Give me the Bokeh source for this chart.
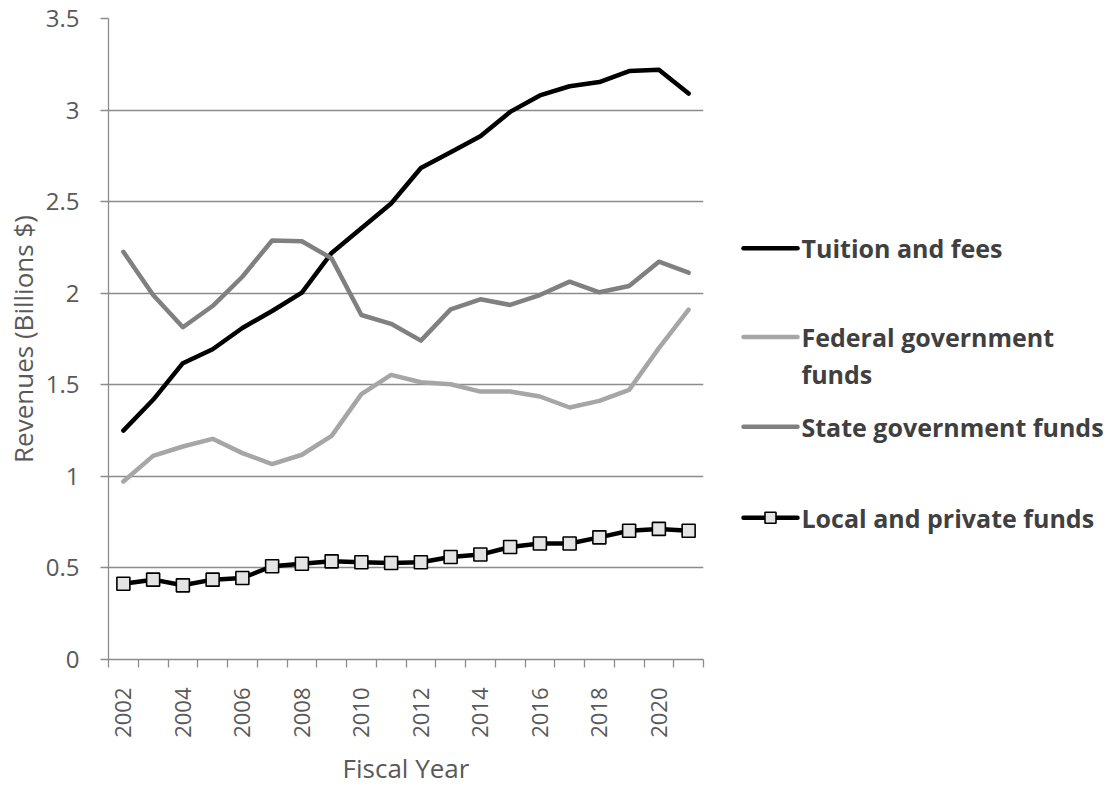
import math
from bokeh.plotting import figure
from bokeh.layouts import row
from bokeh.models import FixedTicker, NumeralTickFormatter, Range1d
from bokeh.embed import file_html
from bokeh.resources import INLINE
from bokeh.core.properties import value

# ---------------- data ----------------
years = list(range(2002, 2022))
tuition = [1.25, 1.418, 1.618, 1.694, 1.81, 1.903, 2.003, 2.22, 2.355, 2.49,
           2.684, 2.77, 2.857, 2.99, 3.08, 3.13, 3.153, 3.213, 3.22, 3.09]
federal = [0.972, 1.112, 1.163, 1.205, 1.127, 1.067, 1.118, 1.221, 1.449, 1.554,
           1.514, 1.503, 1.463, 1.463, 1.436, 1.376, 1.412, 1.472, 1.70, 1.91]
state = [2.226, 1.99, 1.814, 1.93, 2.09, 2.288, 2.284, 2.19, 1.881, 1.833,
         1.741, 1.912, 1.967, 1.936, 1.99, 2.063, 2.005, 2.039, 2.172, 2.112]
local = [0.414, 0.436, 0.405, 0.436, 0.445, 0.509, 0.523, 0.536, 0.531, 0.527,
         0.531, 0.56, 0.573, 0.614, 0.633, 0.633, 0.667, 0.703, 0.713, 0.703]

series_names = ["Tuition and fees", "Federal government\nfunds",
                "State government funds", "Local and private funds"]
y_ticks = [0, 0.5, 1, 1.5, 2, 2.5, 3, 3.5]
x_label_years = list(range(2002, 2022, 2))

FONT = "Open Sans"
GRID = "#8c8c8c"
TXT = "#595959"
colors = ["#000000", "#a6a6a6", "#808080", "#000000"]

# ---------------- main chart ----------------
p = figure(width=720, height=788, x_range=Range1d(2001.5, 2021.5),
           y_range=Range1d(0, 3.5), output_backend="svg", toolbar_location=None,
           min_border_left=108, min_border_right=17, min_border_top=18,
           min_border_bottom=128)
p.outline_line_color = None
p.background_fill_color = "white"
p.border_fill_color = "white"
p.xgrid.visible = False
p.ygrid.grid_line_color = GRID
p.ygrid.grid_line_width = 1.3

yax = p.yaxis[0]
yax.ticker = FixedTicker(ticks=y_ticks)
yax.formatter = NumeralTickFormatter(format="0.[0]")
yax.major_tick_out = 8
yax.major_tick_in = 0
yax.minor_tick_out = 0
yax.minor_tick_in = 0
yax.axis_line_color = GRID
yax.axis_line_width = 1.3
yax.major_tick_line_color = GRID
yax.major_tick_line_width = 1.3
yax.major_label_standoff = 21
yax.major_label_text_font = FONT
yax.major_label_text_font_size = "24px"
yax.major_label_text_color = TXT
yax.axis_label = "Revenues (Billions $)"
yax.axis_label_text_font = FONT
yax.axis_label_text_font_size = "26px"
yax.axis_label_text_font_style = "normal"
yax.axis_label_text_color = TXT
yax.axis_label_standoff = 2

xax = p.xaxis[0]
boundaries = [y - 0.5 for y in years] + [years[-1] + 0.5]
xax.ticker = FixedTicker(ticks=x_label_years, minor_ticks=boundaries)
xax.major_tick_out = 0
xax.major_tick_in = 0
xax.minor_tick_out = 8
xax.minor_tick_in = 0
xax.minor_tick_line_color = GRID
xax.minor_tick_line_width = 1.3
xax.axis_line_color = GRID
xax.axis_line_width = 1.3
xax.major_label_orientation = math.pi / 2
xax.major_label_standoff = 20
xax.major_label_text_font = FONT
xax.major_label_text_font_size = "22px"
xax.major_label_text_color = TXT
xax.axis_label = "Fiscal Year"
xax.axis_label_text_font = FONT
xax.axis_label_text_font_size = "26px"
xax.axis_label_text_font_style = "normal"
xax.axis_label_text_color = TXT
xax.axis_label_standoff = 9

all_series = [tuition, federal, state, local]
for vals, col in zip(all_series, colors):
    p.line(years, vals, line_color=col, line_width=4.5,
           line_join="round", line_cap="round")
p.scatter(years, local, marker="square", size=13, fill_color="#e4e4e4",
          line_color="black", line_width=1.6)

# ---------------- legend panel ----------------
# the row aligns this panel's frame with the chart frame (canvas y 18..660)
lg = figure(width=393, height=788, x_range=Range1d(0, 393), y_range=Range1d(660, 18),
            output_backend="svg", toolbar_location=None,
            x_axis_type=None, y_axis_type=None, min_border=0)
lg.outline_line_color = None
lg.xgrid.visible = False
lg.ygrid.visible = False

entry_y = [248, 337, 427, 518]
line_gap = 37
for name, col, yy in zip(series_names, colors, entry_y):
    lg.line([23, 77], [yy, yy], line_color=col, line_width=4.5, line_cap="round")
    lines = name.split("\n")
    lg.text(x=[81] * len(lines), y=[yy + i * line_gap for i in range(len(lines))],
            text=lines, text_font=value(FONT), text_font_size="25px",
            text_font_style="bold", text_color="#404040", text_baseline="middle",
            text_align="left")
lg.scatter([50], [entry_y[3]], marker="square", size=11, fill_color="#e4e4e4",
           line_color="black", line_width=1.6)

layout = row(p, lg, spacing=0)
open("out.html", "w").write(file_html(layout, INLINE))
